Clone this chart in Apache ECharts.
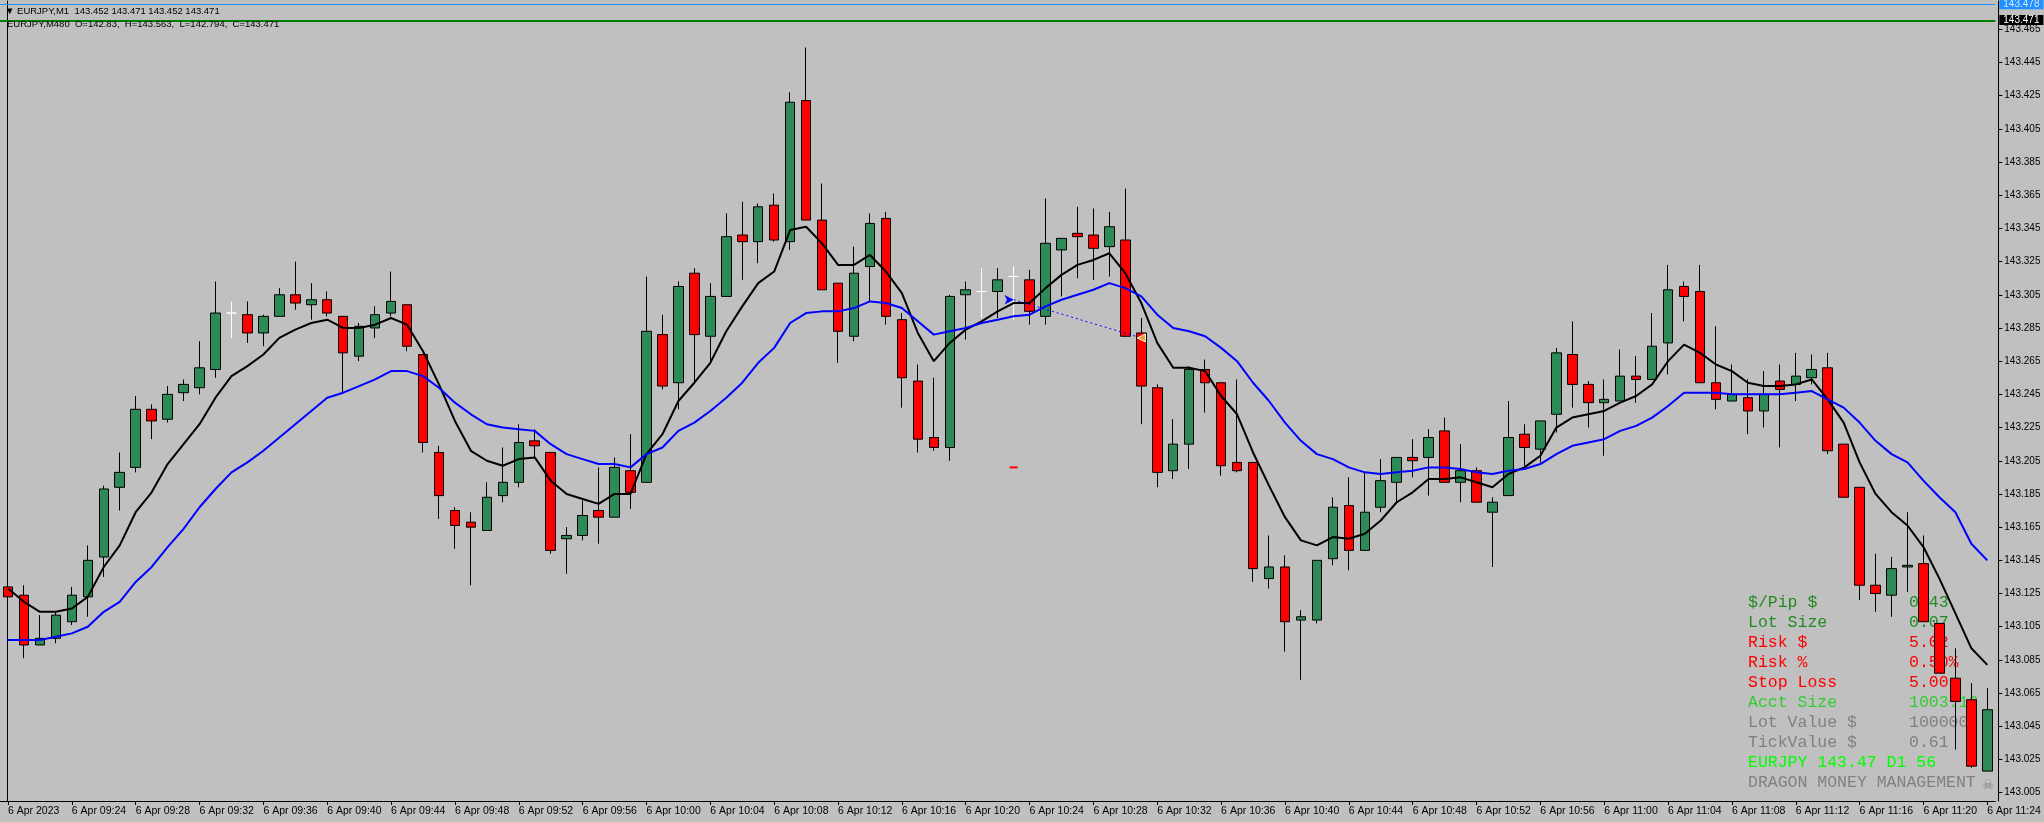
<!DOCTYPE html>
<html><head><meta charset="utf-8">
<script src="https://cdn.jsdelivr.net/npm/echarts@6/dist/echarts.min.js"></script>
<style>html,body{margin:0;padding:0;background:#C0C0C0;}#c{width:2044px;height:822px;}</style>
</head><body><div id="c"></div>
<script>
const times = ['09:20','09:21','09:22','09:23','09:24','09:25','09:26','09:27','09:28','09:29',
'09:30','09:31','09:32','09:33','09:34','09:35','09:36','09:37','09:38','09:39',
'09:40','09:41','09:42','09:43','09:44','09:45','09:46','09:47','09:48','09:49',
'09:50','09:51','09:52','09:53','09:54','09:55','09:56','09:57','09:58','09:59',
'10:00','10:01','10:02','10:03','10:04','10:05','10:06','10:07','10:08','10:09',
'10:10','10:11','10:12','10:13','10:14','10:15','10:16','10:17','10:18','10:19',
'10:20','10:21','10:22','10:23','10:24','10:25','10:26','10:27','10:28','10:29',
'10:30','10:31','10:32','10:33','10:34','10:35','10:36','10:37','10:38','10:39',
'10:40','10:41','10:42','10:43','10:44','10:45','10:46','10:47','10:48','10:49',
'10:50','10:51','10:52','10:53','10:54','10:55','10:56','10:57','10:58','10:59',
'11:00','11:01','11:02','11:03','11:04','11:05','11:06','11:07','11:08','11:09',
'11:10','11:11','11:12','11:13','11:14','11:15','11:16','11:17','11:18','11:19',
'11:20','11:21','11:22','11:23','11:24'];

const opens = [143.129,143.124,143.094,143.098,143.108,143.123,143.147,143.189,143.201,143.236,
143.230,143.246,143.249,143.260,143.294,143.293,143.282,143.292,143.305,143.299,
143.302,143.292,143.268,143.285,143.294,143.299,143.269,143.210,143.175,143.168,
143.163,143.184,143.192,143.217,143.210,143.158,143.160,143.175,143.171,143.199,
143.192,143.281,143.252,143.318,143.280,143.304,143.341,143.337,143.359,143.337,
143.422,143.350,143.312,143.280,143.322,143.351,143.290,143.253,143.219,143.213,
143.305,143.307,143.307,143.316,143.314,143.292,143.332,143.342,143.341,143.334,
143.338,143.282,143.249,143.199,143.215,143.260,143.252,143.204,143.204,143.134,
143.141,143.109,143.109,143.146,143.178,143.151,143.177,143.192,143.207,143.207,
143.223,143.192,143.199,143.174,143.184,143.221,143.212,143.233,143.269,143.251,
143.240,143.241,143.256,143.254,143.276,143.310,143.307,143.252,143.241,143.243,
143.235,143.253,143.251,143.255,143.261,143.215,143.189,143.130,143.124,143.141,
143.143,143.107,143.074,143.061,143.018];

const highs = [143.143,143.130,143.112,143.114,143.129,143.154,143.190,143.210,143.244,143.239,
143.250,143.254,143.277,143.313,143.301,143.301,143.293,143.309,143.325,143.312,
143.307,143.292,143.288,143.298,143.319,143.299,143.269,143.214,143.177,143.174,
143.192,143.213,143.227,143.224,143.210,143.165,143.181,143.201,143.207,143.221,
143.316,143.293,143.313,143.321,143.312,143.354,143.361,143.360,143.366,143.427,
143.454,143.372,143.312,143.334,143.354,143.355,143.294,143.263,143.255,143.305,
143.313,143.321,143.321,143.322,143.320,143.363,143.339,143.358,143.357,143.355,
143.369,143.291,143.251,143.230,143.262,143.266,143.252,143.254,143.204,143.160,
143.148,143.115,143.145,143.183,143.195,143.198,143.206,143.207,143.218,143.224,
143.231,143.215,143.201,143.183,143.241,143.227,143.229,143.273,143.289,143.253,
143.254,143.272,143.268,143.294,143.323,143.313,143.323,143.286,143.263,143.254,
143.259,143.263,143.270,143.269,143.270,143.215,143.189,143.149,143.147,143.174,
143.160,143.107,143.092,143.071,143.068];

const lows = [143.122,143.086,143.094,143.095,143.106,143.111,143.135,143.175,143.198,143.218,
143.228,143.241,143.245,143.255,143.279,143.276,143.274,143.292,143.296,143.290,
143.292,143.246,143.265,143.279,143.292,143.271,143.210,143.170,143.152,143.130,
143.163,143.180,143.189,143.207,143.149,143.137,143.157,143.155,143.171,143.176,
143.192,143.248,143.236,143.252,143.264,143.304,143.314,143.324,143.337,143.332,
143.350,143.308,143.264,143.277,143.301,143.287,143.237,143.210,143.211,143.205,
143.278,143.291,143.291,143.290,143.287,143.287,143.304,143.315,143.314,143.316,
143.280,143.227,143.189,143.194,143.200,143.234,143.196,143.198,143.132,143.128,
143.090,143.073,143.107,143.142,143.139,143.151,143.174,143.179,143.195,143.184,
143.192,143.180,143.180,143.141,143.184,143.202,143.204,143.222,143.237,143.225,
143.208,143.241,143.240,143.254,143.257,143.289,143.252,143.236,143.241,143.221,
143.225,143.213,143.241,143.251,143.209,143.183,143.121,143.114,143.111,143.126,
143.108,143.077,143.031,143.020,143.018];

const closes = [143.123,143.094,143.098,143.112,143.124,143.145,143.188,143.198,143.236,143.229,
143.245,143.251,143.261,143.294,143.294,143.282,143.292,143.305,143.300,143.302,
143.294,143.270,143.286,143.293,143.301,143.274,143.216,143.184,143.166,143.165,
143.183,143.192,143.216,143.214,143.151,143.160,143.172,143.171,143.201,143.186,
143.283,143.250,143.310,143.281,143.304,143.340,143.337,143.358,143.338,143.421,
143.350,143.308,143.283,143.318,143.348,143.292,143.255,143.218,143.213,143.304,
143.308,143.307,143.314,143.316,143.295,143.336,143.339,143.340,143.333,143.346,
143.280,143.250,143.198,143.215,143.260,143.252,143.202,143.199,143.140,143.141,
143.108,143.111,143.145,143.177,143.151,143.174,143.193,143.207,143.205,143.219,
143.192,143.199,143.180,143.180,143.219,143.213,143.229,143.270,143.251,143.240,
143.242,143.256,143.254,143.274,143.308,143.304,143.252,143.242,143.245,143.235,
143.245,143.248,143.256,143.260,143.211,143.183,143.130,143.125,143.140,143.142,
143.108,143.077,143.060,143.021,143.055];

const maFast = [143.128,143.120,143.114,143.114,143.116,143.123,143.141,143.154,143.174,143.186,
143.203,143.215,143.227,143.243,143.256,143.262,143.269,143.279,143.284,143.288,
143.290,143.285,143.285,143.287,143.291,143.287,143.271,143.251,143.229,143.211,
143.205,143.202,143.206,143.207,143.193,143.185,143.182,143.179,143.185,143.185,
143.209,143.221,143.241,143.252,143.264,143.283,143.298,143.312,143.319,143.344,
143.346,143.336,143.323,143.323,143.329,143.319,143.306,143.282,143.265,143.276,
143.284,143.289,143.295,143.300,143.300,143.309,143.317,143.323,143.326,143.330,
143.318,143.300,143.276,143.261,143.261,143.259,143.244,143.233,143.210,143.190,
143.171,143.157,143.154,143.159,143.158,143.161,143.169,143.180,143.186,143.194,
143.194,143.195,143.192,143.189,143.197,143.201,143.208,143.225,143.231,143.233,
143.235,143.240,143.244,143.251,143.265,143.275,143.270,143.263,143.259,143.252,
143.250,143.250,143.251,143.254,143.242,143.228,143.204,143.185,143.174,143.166,
143.153,143.134,143.113,143.092,143.082];

const maSlow = [143.097,143.097,143.097,143.099,143.101,143.105,143.114,143.120,143.132,143.141,
143.153,143.164,143.177,143.188,143.198,143.204,143.211,143.219,143.227,143.235,
143.243,143.246,143.250,143.254,143.259,143.259,143.256,143.249,143.240,143.233,
143.227,143.225,143.224,143.223,143.215,143.209,143.206,143.203,143.203,143.201,
143.209,143.213,143.223,143.228,143.235,143.243,143.252,143.264,143.273,143.288,
143.294,143.295,143.295,143.297,143.301,143.300,143.297,143.289,143.281,143.283,
143.285,143.288,143.290,143.292,143.293,143.298,143.302,143.305,143.308,143.312,
143.309,143.304,143.293,143.285,143.283,143.280,143.273,143.265,143.252,143.241,
143.228,143.217,143.209,143.206,143.201,143.198,143.197,143.198,143.199,143.201,
143.201,143.200,143.198,143.197,143.199,143.200,143.203,143.209,143.214,143.216,
143.218,143.223,143.226,143.231,143.238,143.246,143.246,143.246,143.245,143.245,
143.245,143.245,143.246,143.247,143.242,143.237,143.228,143.217,143.209,143.204,
143.193,143.183,143.174,143.155,143.145];

const yTicks = [143.005,143.025,143.045,143.065,143.085,143.105,143.125,143.145,143.165,143.185,
143.205,143.225,143.245,143.265,143.285,143.305,143.325,143.345,143.365,143.385,
143.405,143.425,143.445,143.465];

const askPrice = 143.478;
const bidPrice = 143.471;
const tradeOpen = ['10:23', 143.302];
const tradeClose = ['10:31', 143.279];
const stopMark = ['10:23', 143.201];

const headerLine1 = '\u25BC EURJPY,M1  143.452 143.471 143.452 143.471';
const headerLine2 = 'EURJPY,M480  O=142.83,  H=143.563,  L=142.794,  C=143.471';

const panelLabels = ['$/Pip $','Lot Size','Risk $','Risk %','Stop Loss','Acct Size','Lot Value $','TickValue $','EURJPY 143.47 D1 56','DRAGON MONEY MANAGEMENT'];
const panelValues = ['0.43','0.07','5.02','0.50%','5.00','1003.12','100000','0.61','',''];
const panelColors = ['#228B22','#228B22','#FF0000','#FF0000','#FF0000','#32CD32','#808080','#808080','#00FF00','#808080'];

const candleData = opens.map((o, i) => [o, closes[i], lows[i], highs[i]]);

const panelGraphics = [];
panelLabels.forEach((t, k) => {
  panelGraphics.push({type:'text', z:1, style:{text:t, x:1748, y:603 + 20*k, fill:panelColors[k], font:'16.5px "Liberation Mono"', verticalAlign:'middle'}});
  if (panelValues[k]) panelGraphics.push({type:'text', z:1, style:{text:panelValues[k], x:1909, y:603 + 20*k, fill:panelColors[k], font:'16.5px "Liberation Mono"', verticalAlign:'middle'}});
});
panelGraphics.push({type:'text', z:1, style:{text:'\u2620', x:1988, y:786, fill:'#808080', font:'13px "DejaVu Sans"', align:'center', verticalAlign:'middle'}});
panelGraphics.push({type:'text', z:10, style:{text:headerLine1, x:5, y:11, fill:'#000', font:'9.5px "Liberation Sans"', verticalAlign:'middle'}});
panelGraphics.push({type:'text', z:10, style:{text:headerLine2, x:7, y:24, fill:'#000', font:'9.5px "Liberation Sans"', verticalAlign:'middle'}});

const chart = echarts.init(document.getElementById('c'), null, {renderer:'canvas'});
chart.setOption({
  animation: false,
  backgroundColor: '#C0C0C0',
  grid: {left: -4.7, right: 48.7, top: 1, bottom: 21, containLabel: false},
  xAxis: {
    type: 'category', data: times, boundaryGap: true,
    axisLine: {show: true, lineStyle: {color: '#000', width: 1}},
    axisTick: {show: true, alignWithLabel: true, interval: 3, length: 4, lineStyle: {color: '#000'}},
    axisLabel: {interval: 3, align: 'left', margin: 5, color: '#000', fontSize: 10.5, fontFamily: 'Liberation Sans',
      formatter: (v, i) => i === 0 ? '6 Apr 2023' : '6 Apr ' + v},
    splitLine: {show: false}
  },
  yAxis: [{
    type: 'value', position: 'right', min: 143.0, max: 143.482, offset: 3, scale: true,
    axisLine: {show: true, lineStyle: {color: '#000', width: 1}},
    axisTick: {show: true, length: 4, customValues: yTicks, lineStyle: {color: '#000'}},
    axisLabel: {customValues: yTicks, margin: 6, color: '#000', fontSize: 10, fontFamily: 'Liberation Sans',
      formatter: v => Number(v).toFixed(3)},
    splitLine: {show: false}
  }, {
    type: 'value', position: 'left', min: 143.0, max: 143.482, offset: -7.5,
    axisLine: {show: true, onZero: false, lineStyle: {color: '#000', width: 1}},
    axisTick: {show: false}, axisLabel: {show: false}, splitLine: {show: false}
  }],
  graphic: panelGraphics,
  series: [{
    type: 'candlestick', data: candleData, barWidth: 10, yAxisIndex: 0,
    itemStyle: {color: '#2E8B57', color0: '#FF0000', borderColor: '#000', borderColor0: '#000', borderColorDoji: '#FFFFFF', borderWidth: 1},
    markLine: {
      silent: true, symbol: ['none', 'none'], animation: false,
      data: [
        {yAxis: askPrice, lineStyle: {color: '#1E90FF', width: 1, type: 'solid'},
          label: {show: true, position: 'end', distance: 4, formatter: askPrice.toFixed(3), backgroundColor: '#1E90FF', color: '#D8E8FF', padding: [0, 4, 0, 4], fontSize: 10, fontFamily: 'Liberation Sans'}},
        {yAxis: bidPrice, lineStyle: {color: '#008000', width: 2, type: 'solid'},
          label: {show: true, position: 'end', distance: 4, formatter: bidPrice.toFixed(3), backgroundColor: '#000000', color: '#FFFFFF', padding: [0, 4, 0, 4], offset: [0, -1], fontSize: 10, fontFamily: 'Liberation Sans'}},
        [{coord: tradeOpen, lineStyle: {color: '#0000FF', width: 1, type: [2, 3]}, label: {show: false}}, {coord: tradeClose}]
      ]
    },
    markPoint: {
      silent: true, label: {show: false}, animation: false,
      data: [
        {coord: tradeOpen, symbol: 'arrow', symbolRotate: -90, symbolSize: [7, 9], itemStyle: {color: '#0000FF'}},
        {coord: tradeClose, symbol: 'triangle', symbolRotate: 90, symbolSize: [8, 8], itemStyle: {color: '#E8A020', borderColor: '#FFFFFF', borderWidth: 1}},
        {coord: stopMark, symbol: 'rect', symbolSize: [8, 2], itemStyle: {color: '#FF0000'}}
      ]
    }
  }, {
    type: 'line', data: maFast, yAxisIndex: 0, showSymbol: false, symbol: 'none',
    lineStyle: {color: '#000000', width: 2}, z: 3
  }, {
    type: 'line', data: maSlow, yAxisIndex: 0, showSymbol: false, symbol: 'none',
    lineStyle: {color: '#0000FF', width: 2}, z: 3
  }]
});
</script></body></html>
